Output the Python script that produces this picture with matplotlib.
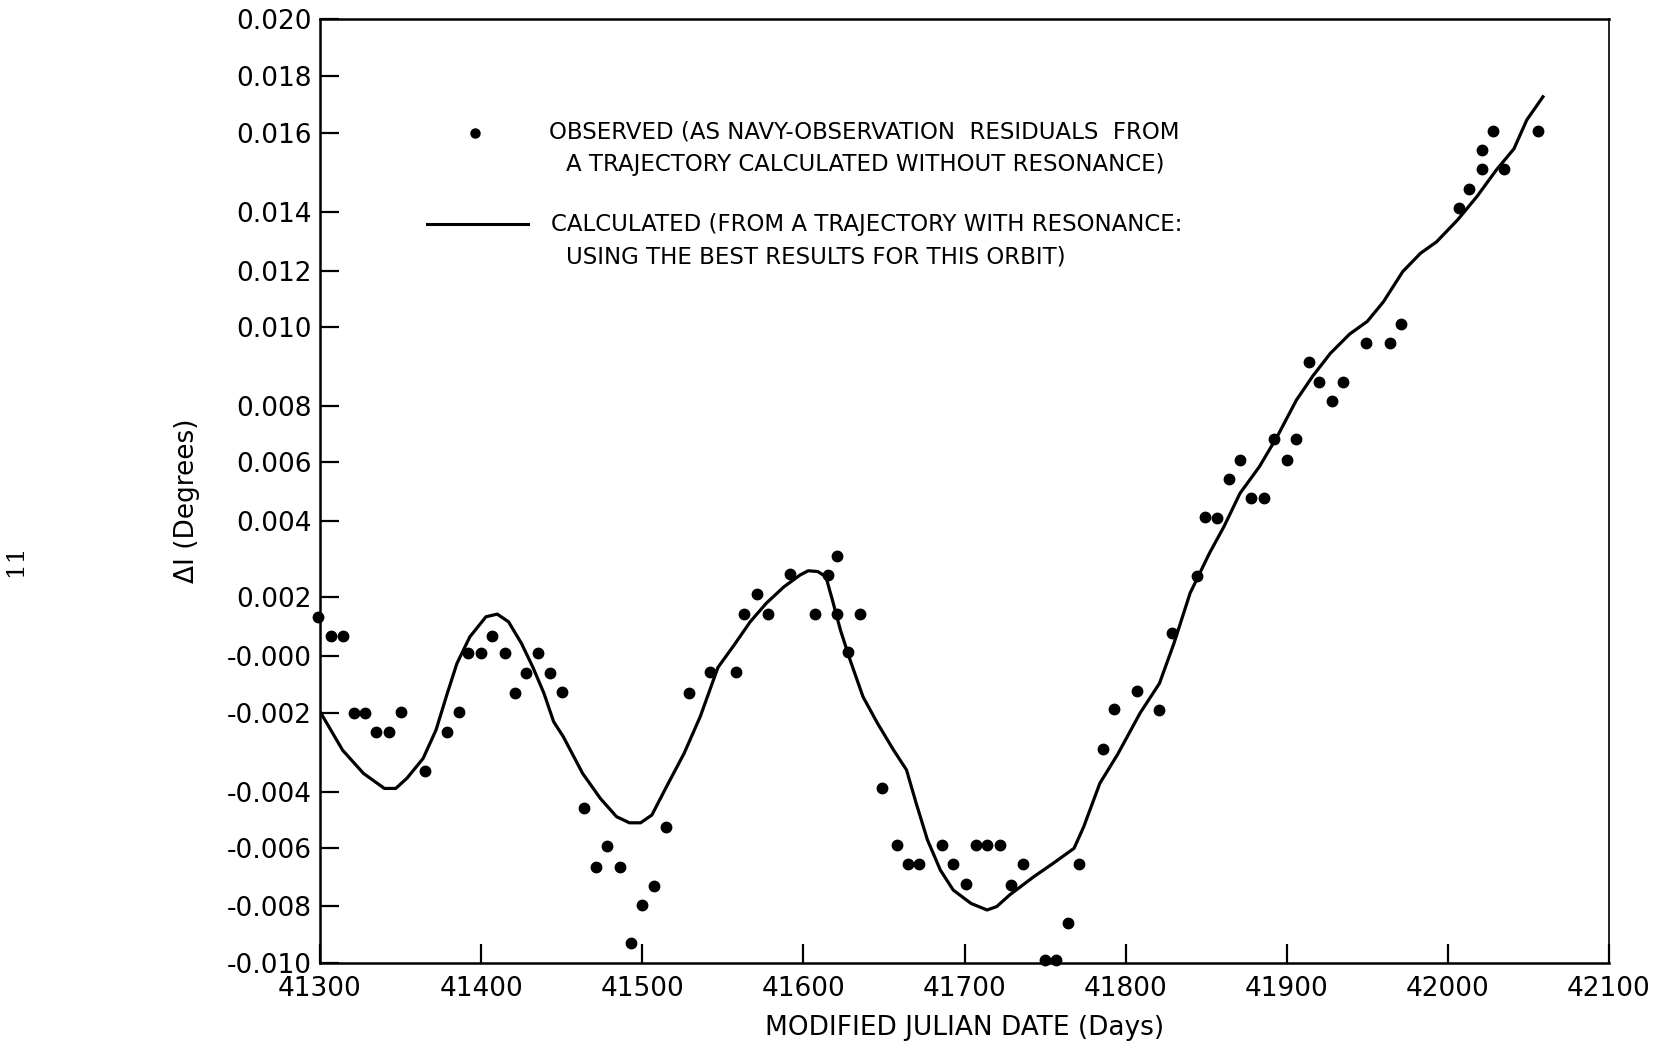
import numpy as np
import matplotlib
matplotlib.use("Agg")
import matplotlib.pyplot as plt
from matplotlib.lines import Line2D

# observed residuals (MJD, delta I in degrees)
obs_mjd = [41299, 41307, 41314, 41321, 41328, 41335, 41343, 41350, 41365, 41379,
           41386, 41392, 41400, 41407, 41415, 41421, 41428, 41435, 41443, 41450,
           41464, 41471, 41478, 41486, 41493, 41500, 41507, 41515, 41529, 41542,
           41558, 41563, 41571, 41578, 41592, 41607, 41615, 41621, 41621, 41628,
           41635, 41649, 41658, 41665, 41672, 41686, 41693, 41701, 41707, 41714,
           41722, 41729, 41736, 41750, 41757, 41764, 41771, 41786, 41793, 41807,
           41821, 41829, 41844, 41849, 41857, 41864, 41871, 41878, 41886, 41892,
           41900, 41906, 41914, 41920, 41928, 41935, 41949, 41964, 41971, 42007,
           42013, 42021, 42021, 42028, 42035, 42056]
obs_di = [0.00133, 0.00069, 0.00069, -0.0020, -0.0020, -0.00249, -0.00249, -0.00198, -0.00346, -0.00249,
          -0.00195, 0.0001, 0.0001, 0.00069, 0.0001, -0.00129, -0.00061, 0.0001, -0.00061, -0.00127,
          -0.00458, -0.00664, -0.00593, -0.00664, -0.00931, -0.00797, -0.00731, -0.00526, -0.00129, -0.00057,
          -0.00055, 0.00142, 0.00207, 0.00142, 0.0026, 0.00142, 0.00258, 0.00308, 0.00142, 0.00013,
          0.00142, -0.00389, -0.00589, -0.00656, -0.00656, -0.00589, -0.00656, -0.00724, -0.00589, -0.00589,
          -0.00589, -0.00728, -0.00656, -0.0099, -0.0099, -0.00861, -0.00656, -0.00291, -0.00187, -0.00122,
          -0.00189, 0.00077, 0.00256, 0.00413, 0.00409, 0.00542, 0.00607, 0.00477, 0.00477, 0.00682,
          0.00607, 0.00682, 0.00911, 0.00862, 0.00813, 0.0086, 0.0096, 0.00959, 0.0101, 0.0141,
          0.01458, 0.01508, 0.01557, 0.01608, 0.01508, 0.01608]

# calculated trajectory with resonance
calc_mjd = [41300, 41314, 41327, 41340, 41347, 41354, 41364, 41372, 41379, 41385,
            41393, 41403, 41410, 41417, 41425, 41432, 41439, 41445, 41451, 41463,
            41474, 41484, 41492, 41499, 41506, 41515, 41526, 41536, 41547, 41557,
            41567, 41577, 41588, 41598, 41603, 41609, 41614, 41618, 41623, 41629,
            41637, 41646, 41656, 41664, 41670, 41677, 41685, 41693, 41704, 41714,
            41720, 41728, 41743, 41755, 41768, 41774, 41784, 41795, 41809, 41821,
            41830, 41840, 41852, 41861, 41871, 41883, 41894, 41906, 41916, 41927,
            41939, 41950, 41960, 41972, 41983, 41993, 42006, 42018, 42030, 42041,
            42049, 42059]
calc_di = [-0.00195, -0.00294, -0.00353, -0.00391, -0.00391, -0.00365, -0.00315, -0.00243, -0.00131, -0.00026,
           0.00065, 0.00133, 0.00142, 0.00116, 0.00043, -0.00038, -0.00131, -0.00222, -0.0026, -0.00353,
           -0.00423, -0.00488, -0.0051, -0.0051, -0.00482, -0.00387, -0.00302, -0.00209, -0.0004, 0.00037,
           0.00116, 0.00179, 0.00227, 0.00258, 0.00269, 0.00267, 0.00253, 0.0019, 0.00088, -0.00014,
           -0.00143, -0.00226, -0.00294, -0.00344, -0.0044, -0.00571, -0.00676, -0.00745, -0.00791, -0.00814,
           -0.00802, -0.00762, -0.00699, -0.00653, -0.00601, -0.00524, -0.00378, -0.00305, -0.002, -0.00096,
           0.00043, 0.0021, 0.00315, 0.00385, 0.00494, 0.00584, 0.0069, 0.00815, 0.00875, 0.00933,
           0.00982, 0.0102, 0.0109, 0.01198, 0.0126, 0.01299, 0.01373, 0.01439, 0.01506, 0.0156,
           0.01646, 0.01727]

x_ticks = [41300, 41400, 41500, 41600, 41700, 41800, 41900, 42000, 42100]
y_ticks = [-0.010, -0.008, -0.006, -0.004, -0.002, 0.000, 0.002, 0.004,
           0.006, 0.008, 0.010, 0.012, 0.014, 0.016, 0.018, 0.020]
y_tick_labels = ["-0.010", "-0.008", "-0.006", "-0.004", "-0.002", "-0.000", "0.002", "0.004",
                 "0.006", "0.008", "0.010", "0.012", "0.014", "0.016", "0.018", "0.020"]

# the hand-drawn y axis is not evenly spaced: where each tick sits on the page
y_gauge = [0, 57, 115, 171, 250, 307, 366, 442, 501, 557, 636, 692, 751, 830, 887, 944]
g_vals = np.concatenate(([-1.0], y_ticks, [1.0]))
g_pos = np.concatenate(([-0.99 * 28500], y_gauge, [944 + 0.98 * 28500]))


def fwd(v):
    return np.interp(v, g_vals, g_pos)


def inv(p):
    return np.interp(p, g_pos, g_vals)


plt.rcParams['font.family'] = 'DejaVu Sans'
fig = plt.figure(figsize=(16.66, 10.53), dpi=100)
ax = fig.add_axes([320 / 1666, 1 - 963 / 1053, 1289 / 1666, 944 / 1053])
ax.set_yscale('function', functions=(fwd, inv))

ax.plot(calc_mjd, calc_di, color='black', lw=2.3, zorder=2, solid_joinstyle='round')
ax.plot(obs_mjd, obs_di, 'o', color='black', ms=7.5, zorder=3, clip_on=False)

ax.set_xlim(41300, 42100)
ax.set_ylim(-0.010, 0.020)
ax.set_xticks(x_ticks)
ax.set_xticklabels([str(t) for t in x_ticks])
ax.set_yticks(y_ticks)
ax.set_yticklabels(y_tick_labels)
ax.minorticks_off()
ax.tick_params(axis='both', direction='in', length=14, width=1.6, labelsize=19, colors='black')
ax.tick_params(axis='y', pad=6)
ax.tick_params(axis='x', pad=9)
for side in ['left', 'bottom', 'top']:
    ax.spines[side].set_linewidth(1.8)
ax.spines['right'].set_linewidth(1.2)

ax.set_xlabel('MODIFIED JULIAN DATE (Days)', fontsize=19, labelpad=10)
ax.set_ylabel('ΔI (Degrees)', fontsize=19)
ax.yaxis.set_label_coords(-0.093, 0.49)

# hand-made legend
fig.add_artist(Line2D([475 / 1666], [1 - 133 / 1053], marker='o', color='black', ms=6.5, ls='none'))
fig.add_artist(Line2D([427 / 1666, 528 / 1666], [1 - 224 / 1053, 1 - 224 / 1053], color='black', lw=2.2))
leg_kw = dict(fontsize=16.5, va='center', ha='left')
fig.text(549 / 1666, 1 - 132 / 1053, 'OBSERVED (AS NAVY-OBSERVATION  RESIDUALS  FROM', **leg_kw)
fig.text(566 / 1666, 1 - 165 / 1053, 'A TRAJECTORY CALCULATED WITHOUT RESONANCE)', **leg_kw)
fig.text(551 / 1666, 1 - 224 / 1053, 'CALCULATED (FROM A TRAJECTORY WITH RESONANCE:', **leg_kw)
fig.text(566 / 1666, 1 - 257 / 1053, 'USING THE BEST RESULTS FOR THIS ORBIT)', **leg_kw)

# page number of the scanned report
fig.text(16 / 1666, 1 - 560 / 1053, '11', rotation=90, fontsize=18, family='DejaVu Serif',
         va='center', ha='center')

fig.savefig('out.png', dpi=100)
